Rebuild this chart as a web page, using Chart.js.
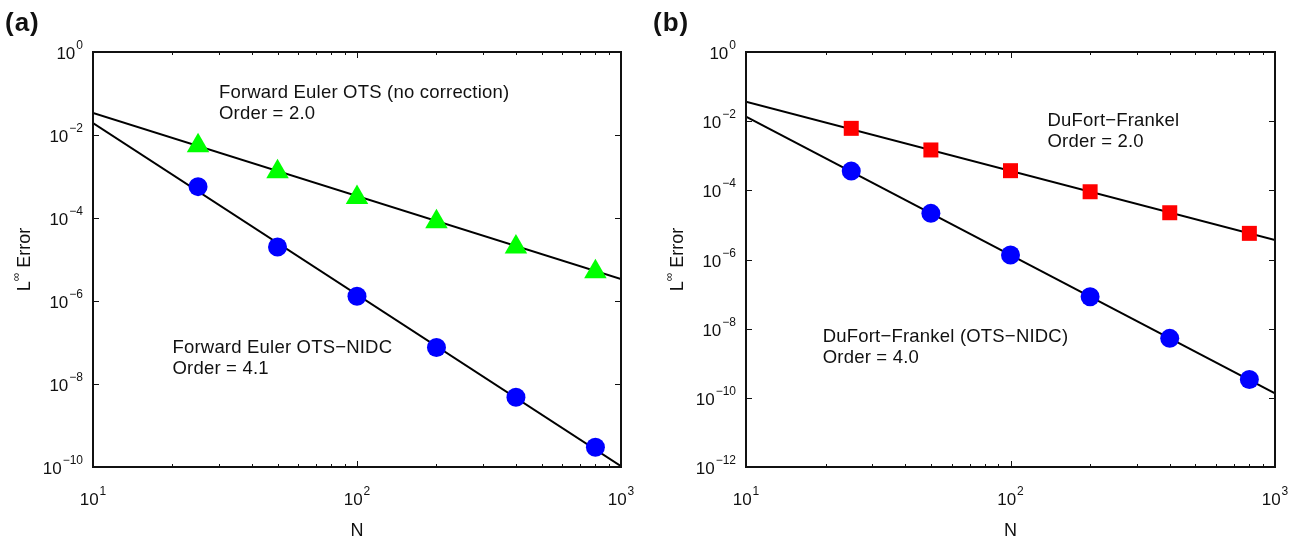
<!DOCTYPE html>
<html>
<head>
<meta charset="utf-8">
<title>Convergence plots</title>
<script src="https://cdn.jsdelivr.net/npm/chart.js@4.4.7/dist/chart.umd.min.js"></script>
<style>
  html, body { margin: 0; padding: 0; background: #fff; }
  .panel { position: absolute; top: 0; width: 648px; height: 540px; }
  #panelA { left: 0; }
  #panelB { left: 648px; }
</style>
</head>
<body>
<div class="panel" id="panelA"><canvas id="chartA"></canvas></div>
<div class="panel" id="panelB"><canvas id="chartB"></canvas></div>
<script>
// ---- Data ----
const gridN = [25, 50, 100, 200, 400, 800];
const fitN = [10, 1000];

// panel (a)
const eulerOtsErr  = [5.5e-3, 1.3e-3, 3.1e-4, 8.1e-5, 2.0e-5, 5.1e-6];
const eulerNidcErr = [5.7e-4, 2.0e-5, 1.3e-6, 7.6e-8, 4.8e-9, 3.0e-10];
const eulerOtsFit  = [3.4e-2, 3.4e-6];
const eulerNidcFit = [1.95e-2, 1.05e-10];

// panel (b)
const dufortErr     = [6.2e-3, 1.47e-3, 3.7e-4, 9.1e-5, 2.25e-5, 5.7e-6];
const dufortNidcErr = [3.6e-4, 2.16e-5, 1.35e-6, 8.4e-8, 5.25e-9, 3.4e-10];
const dufortFit     = [3.65e-2, 3.65e-6];
const dufortNidcFit = [1.35e-2, 1.35e-10];

// tick exponents
const xExps  = [1, 2, 3];
const yExpsA = [0, -2, -4, -6, -8, -10];
const yExpsB = [0, -2, -4, -6, -8, -10, -12];

const FONT = '"Liberation Sans", Arial, Helvetica, sans-serif';
const INK = "#111";

function pts(xs, ys) {
  return xs.map(function (x, i) { return { x: x, y: ys[i] }; });
}

function expText(e) {
  return e < 0 ? "\u2212" + Math.abs(e) : String(e);
}

// "10" with a raised exponent; x,y = anchor on baseline
function drawPow(ctx, x, y, e, align) {
  var ex = expText(e);
  ctx.font = "17px " + FONT;
  var wb = ctx.measureText("10").width;
  ctx.font = "12px " + FONT;
  var we = ctx.measureText(ex).width;
  var x0 = align === "right" ? x - wb - 1 - we : x - (wb + 1 + we) / 2;
  ctx.textAlign = "left";
  ctx.textBaseline = "alphabetic";
  ctx.font = "17px " + FONT;
  ctx.fillText("10", x0, y);
  ctx.font = "12px " + FONT;
  ctx.fillText(ex, x0 + wb + 1, y - 10);
}

// ---- Frame / ticks / labels plugin ----
const framePlugin = {
  id: "frame",
  afterDraw: function (chart, args, opts) {
    var ctx = chart.ctx;
    var a = chart.chartArea;
    var xs = chart.scales.x, ys = chart.scales.y;
    ctx.save();
    ctx.fillStyle = INK;
    ctx.strokeStyle = INK;

    // ticks
    ctx.lineWidth = 1;
    ctx.beginPath();
    for (var d = 1; d <= 2; d++) {
      for (var k = 1; k <= 9; k++) {
        var px = Math.round(xs.getPixelForValue(k * Math.pow(10, d))) + 0.5;
        var len = k === 1 ? 6 : 3;
        ctx.moveTo(px, a.bottom); ctx.lineTo(px, a.bottom - len);
        ctx.moveTo(px, a.top); ctx.lineTo(px, a.top + len);
      }
    }
    opts.yExps.forEach(function (e) {
      var py = Math.round(ys.getPixelForValue(Math.pow(10, e))) + 0.5;
      ctx.moveTo(a.left, py); ctx.lineTo(a.left + 6, py);
      ctx.moveTo(a.right, py); ctx.lineTo(a.right - 6, py);
    });
    ctx.stroke();

    // box
    ctx.lineWidth = 2;
    ctx.strokeRect(a.left, a.top, a.right - a.left, a.bottom - a.top);

    // tick labels
    xExps.forEach(function (e) {
      drawPow(ctx, xs.getPixelForValue(Math.pow(10, e)), a.bottom + 38, e, "center");
    });
    opts.yExps.forEach(function (e) {
      drawPow(ctx, a.left - 10, ys.getPixelForValue(Math.pow(10, e)) + 7, e, "right");
    });

    // axis titles
    ctx.font = "18px " + FONT;
    ctx.textAlign = "center";
    ctx.fillText("N", (a.left + a.right) / 2, a.bottom + 69);

    ctx.save();
    ctx.translate(a.left - 63, (a.top + a.bottom) / 2);
    ctx.rotate(-Math.PI / 2);
    ctx.font = "18px " + FONT;
    var wL = ctx.measureText("L").width;
    var wRest = ctx.measureText(" Error").width;
    ctx.font = "12px " + FONT;
    var wInf = ctx.measureText("\u221E").width;
    var start = -(wL + wInf + wRest) / 2;
    ctx.textAlign = "left";
    ctx.font = "18px " + FONT;
    ctx.fillText("L", start, 0);
    ctx.font = "12px " + FONT;
    ctx.fillText("\u221E", start + wL, -10);
    ctx.font = "18px " + FONT;
    ctx.fillText(" Error", start + wL + wInf, 0);
    ctx.restore();

    // annotations
    ctx.textAlign = "left";
    ctx.letterSpacing = "0.2px";
    ctx.font = "18.5px " + FONT;
    opts.notes.forEach(function (n) {
      var nx = xs.getPixelForValue(n.at[0]);
      var ny = ys.getPixelForValue(n.at[1]);
      n.lines.forEach(function (t, i) { ctx.fillText(t, nx, ny + i * 21); });
    });

    // panel tag
    ctx.letterSpacing = "1px";
    ctx.font = "bold 26px " + FONT;
    ctx.fillText(opts.tag, 5, 31);
    ctx.letterSpacing = "0px";
    ctx.restore();
  }
};

function makeChart(id, cfg) {
  return new Chart(document.getElementById(id), {
    type: "scatter",
    data: {
      datasets: [
        {
          data: pts(gridN, cfg.upper),
          pointStyle: cfg.upperStyle,
          pointRadius: cfg.upperRadius,
          backgroundColor: cfg.upperColor,
          borderWidth: 0
        },
        {
          data: pts(gridN, cfg.lower),
          pointStyle: "circle",
          pointRadius: 9.5,
          backgroundColor: "#0000FF",
          borderWidth: 0
        },
        {
          data: pts(fitN, cfg.upperFit),
          showLine: true,
          pointRadius: 0,
          borderColor: "#000",
          borderWidth: 2
        },
        {
          data: pts(fitN, cfg.lowerFit),
          showLine: true,
          pointRadius: 0,
          borderColor: "#000",
          borderWidth: 2
        }
      ]
    },
    options: {
      responsive: true,
      maintainAspectRatio: false,
      animation: false,
      events: [],
      layout: { padding: cfg.padding },
      plugins: {
        legend: { display: false },
        tooltip: { enabled: false },
        frame: { yExps: cfg.yExps, notes: cfg.notes, tag: cfg.tag }
      },
      scales: {
        x: { type: "logarithmic", min: 10, max: 1000, display: false },
        y: { type: "logarithmic", min: cfg.yMin, max: 1, display: false }
      }
    },
    plugins: [framePlugin]
  });
}

makeChart("chartA", {
  tag: "(a)",
  upper: eulerOtsErr, upperFit: eulerOtsFit,
  lower: eulerNidcErr, lowerFit: eulerNidcFit,
  upperStyle: "triangle", upperRadius: 13, upperColor: "#00FF00",
  yMin: 1e-10, yExps: yExpsA,
  padding: { left: 93, right: 27, top: 52, bottom: 73 },
  notes: [
    { at: [30, 7.8e-2], lines: ["Forward Euler OTS (no correction)", "Order = 2.0"] },
    { at: [20, 5.6e-8], lines: ["Forward Euler OTS\u2212NIDC", "Order = 4.1"] }
  ]
});

makeChart("chartB", {
  tag: "(b)",
  upper: dufortErr, upperFit: dufortFit,
  lower: dufortNidcErr, lowerFit: dufortNidcFit,
  upperStyle: "rect", upperRadius: 10.6, upperColor: "#FF0000",
  yMin: 1e-12, yExps: yExpsB,
  padding: { left: 98, right: 21, top: 52, bottom: 73 },
  notes: [
    { at: [138, 7.2e-3], lines: ["DuFort\u2212Frankel", "Order = 2.0"] },
    { at: [19.5, 4.2e-9], lines: ["DuFort\u2212Frankel (OTS\u2212NIDC)", "Order = 4.0"] }
  ]
});
</script>
</body>
</html>
